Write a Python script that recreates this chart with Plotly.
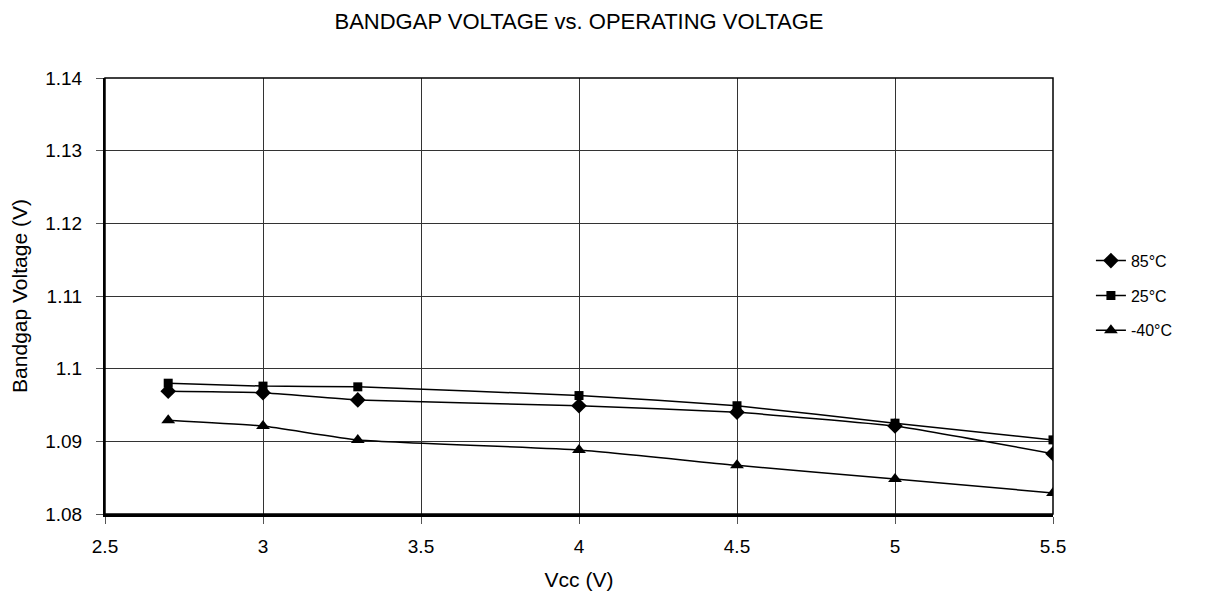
import plotly.graph_objects as go

vcc = [2.7, 3.0, 3.3, 4.0, 4.5, 5.0, 5.5]
v_85 = [1.0969, 1.0967, 1.0957, 1.0949, 1.0940, 1.0921, 1.0883]
v_25 = [1.0980, 1.0976, 1.0975, 1.0963, 1.0949, 1.0925, 1.0902]
v_m40 = [1.0929, 1.0921, 1.0902, 1.0888, 1.0867, 1.0848, 1.0829]

series = [
    ("85°C", v_85, "diamond", 12),
    ("25°C", v_25, "square", 9),
    ("-40°C", v_m40, "triangle-up", 12),
]

fig = go.Figure()
for name, vals, sym, sz in series:
    fig.add_trace(go.Scatter(
        x=vcc, y=vals, name=name, mode="lines+markers", legendgroup=name,
        line=dict(color="black", width=1.5, shape="spline", smoothing=0.4),
        marker=dict(symbol=sym, size=sz, color="black"),
    ))

font = "Liberation Sans, Arial, sans-serif"
# page body has an 8px margin, so the figure sits at (8, 8)
fig.update_layout(
    width=1212, height=599,
    margin=dict(l=97, r=167, t=70, b=93),
    paper_bgcolor="white", plot_bgcolor="white",
    font=dict(family=font, size=19, color="black"),
    title=dict(text="BANDGAP VOLTAGE vs. OPERATING VOLTAGE", x=0.5, xanchor="center",
               y=0.977, yanchor="middle", xref="paper", font=dict(size=22, family=font)),
    legend=dict(x=1.04, y=0.62, xanchor="left", yanchor="top",
                bgcolor="rgba(0,0,0,0)", font=dict(size=16), tracegroupgap=11,
                itemwidth=30),
    showlegend=True,
)
fig.update_xaxes(
    range=[2.5, 5.5], dtick=0.5, tick0=2.5, automargin=False,
    showgrid=True, gridcolor="#333", gridwidth=1,
    showline=True, linecolor="black", linewidth=2.5, mirror=False,
    ticks="outside", ticklen=7, tickcolor="#555", ticklabelstandoff=6,
    title=dict(text="Vcc (V)", standoff=17, font=dict(size=21)), zeroline=False,
)
fig.update_yaxes(
    range=[1.08, 1.14], dtick=0.01, tick0=1.08, tickformat="~g", automargin=False,
    showgrid=True, gridcolor="#333", gridwidth=1,
    showline=True, linecolor="black", linewidth=2, mirror=False,
    ticks="outside", ticklen=7, tickcolor="#555", ticklabelstandoff=10,
    title=dict(text="Bandgap Voltage (V)", standoff=18, font=dict(size=21)), zeroline=False,
)
fig.add_shape(type="rect", xref="paper", yref="paper", x0=0, y0=0, x1=1, y1=1,
              line=dict(color="black", width=1.5), layer="above")

fig.write_html("out.html")
